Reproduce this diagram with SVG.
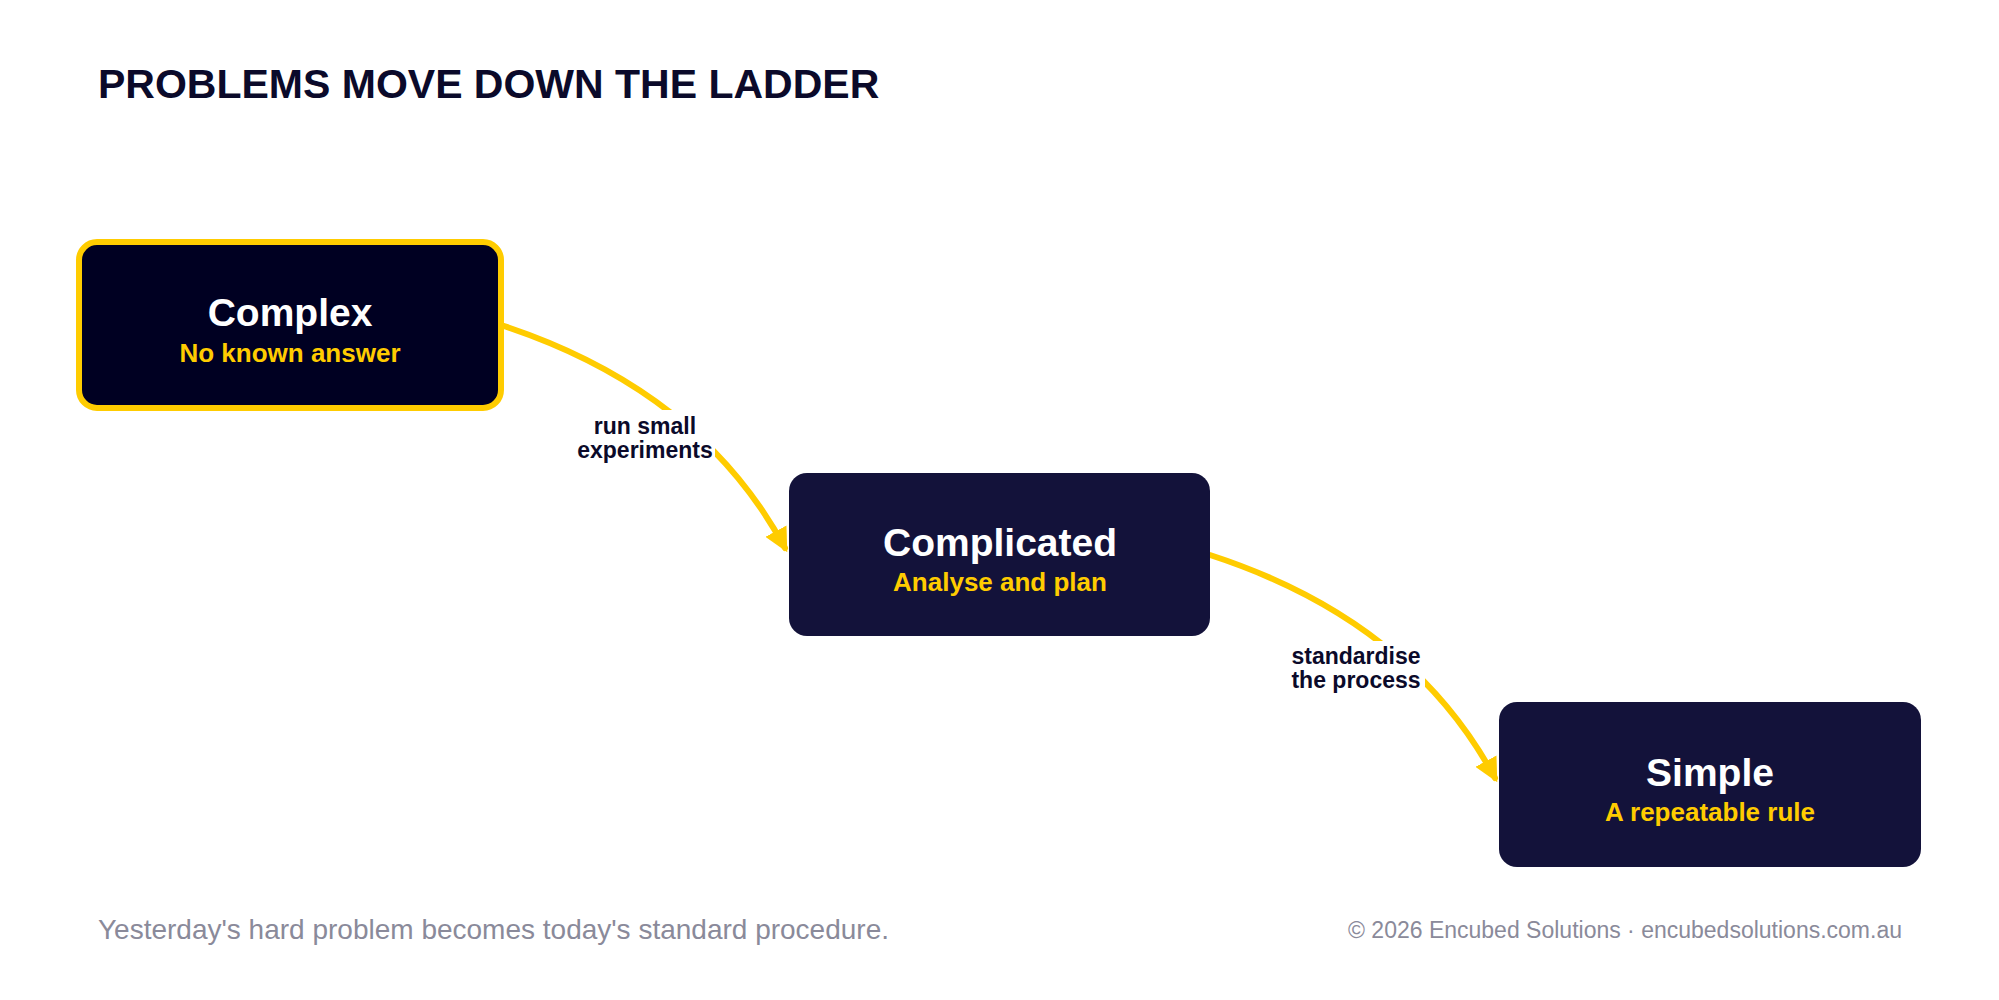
<svg xmlns="http://www.w3.org/2000/svg" width="1999" height="1000" viewBox="0 0 1999 1000">
<style>
text{font-family:"Liberation Sans",Arial,sans-serif;text-anchor:middle;font-weight:bold}
.t{fill:#fff;font-size:39px}.s{fill:#FFCC00;font-size:26px}
.l{fill:#0b0a2a;font-size:23px}
.e{fill:none;stroke:#FFCC00;stroke-width:6;stroke-linecap:round}
.lb{fill:#fff}
</style>
<defs><marker id="a" viewBox="0 0 10 10" refX="8" refY="5" markerWidth="4" markerHeight="4" orient="auto" markerUnits="strokeWidth"><path d="M0,0 L10,5 L0,10 z" fill="#FFCC00"/></marker></defs>
<rect width="1999" height="1000" fill="#fff"/>
<text x="98" y="98" style="text-anchor:start;font-size:41px;fill:#0b0a2a">PROBLEMS MOVE DOWN THE LADDER</text>
<g id="connectors">
<path class="e" d="M501,325 Q700,390 785,548" marker-end="url(#a)"/>
<rect class="lb" x="575" y="410" width="140" height="55"/>
<text class="l" x="645" y="434">run small</text><text class="l" x="645" y="458">experiments</text>
<path class="e" d="M1210,555 Q1410,620 1495,778" marker-end="url(#a)"/>
<rect class="lb" x="1285" y="641" width="140" height="55"/>
<text class="l" x="1356" y="664">standardise</text><text class="l" x="1356" y="688">the process</text>
</g>
<g id="complex"><rect x="79" y="242" width="422" height="166" rx="18" fill="#000022" stroke="#FFCC00" stroke-width="6"/>
<text class="t" x="290" y="326">Complex</text><text class="s" x="290" y="362">No known answer</text></g>
<g id="complicated"><rect x="789" y="473" width="421" height="163" rx="18" fill="#13123a"/>
<text class="t" x="1000" y="556">Complicated</text><text class="s" x="1000" y="591">Analyse and plan</text></g>
<g id="simple"><rect x="1499" y="702" width="422" height="165" rx="18" fill="#13123a"/>
<text class="t" x="1710" y="786">Simple</text><text class="s" x="1710" y="821">A repeatable rule</text></g>
<text x="98" y="939" style="text-anchor:start;font-weight:normal;font-size:28px;fill:#8a8a9a">Yesterday's hard problem becomes today's standard procedure.</text>
<text x="1902" y="938" style="text-anchor:end;font-weight:normal;font-size:23px;fill:#8a8a9a">© 2026 Encubed Solutions  ·  encubedsolutions.com.au</text>
</svg>
